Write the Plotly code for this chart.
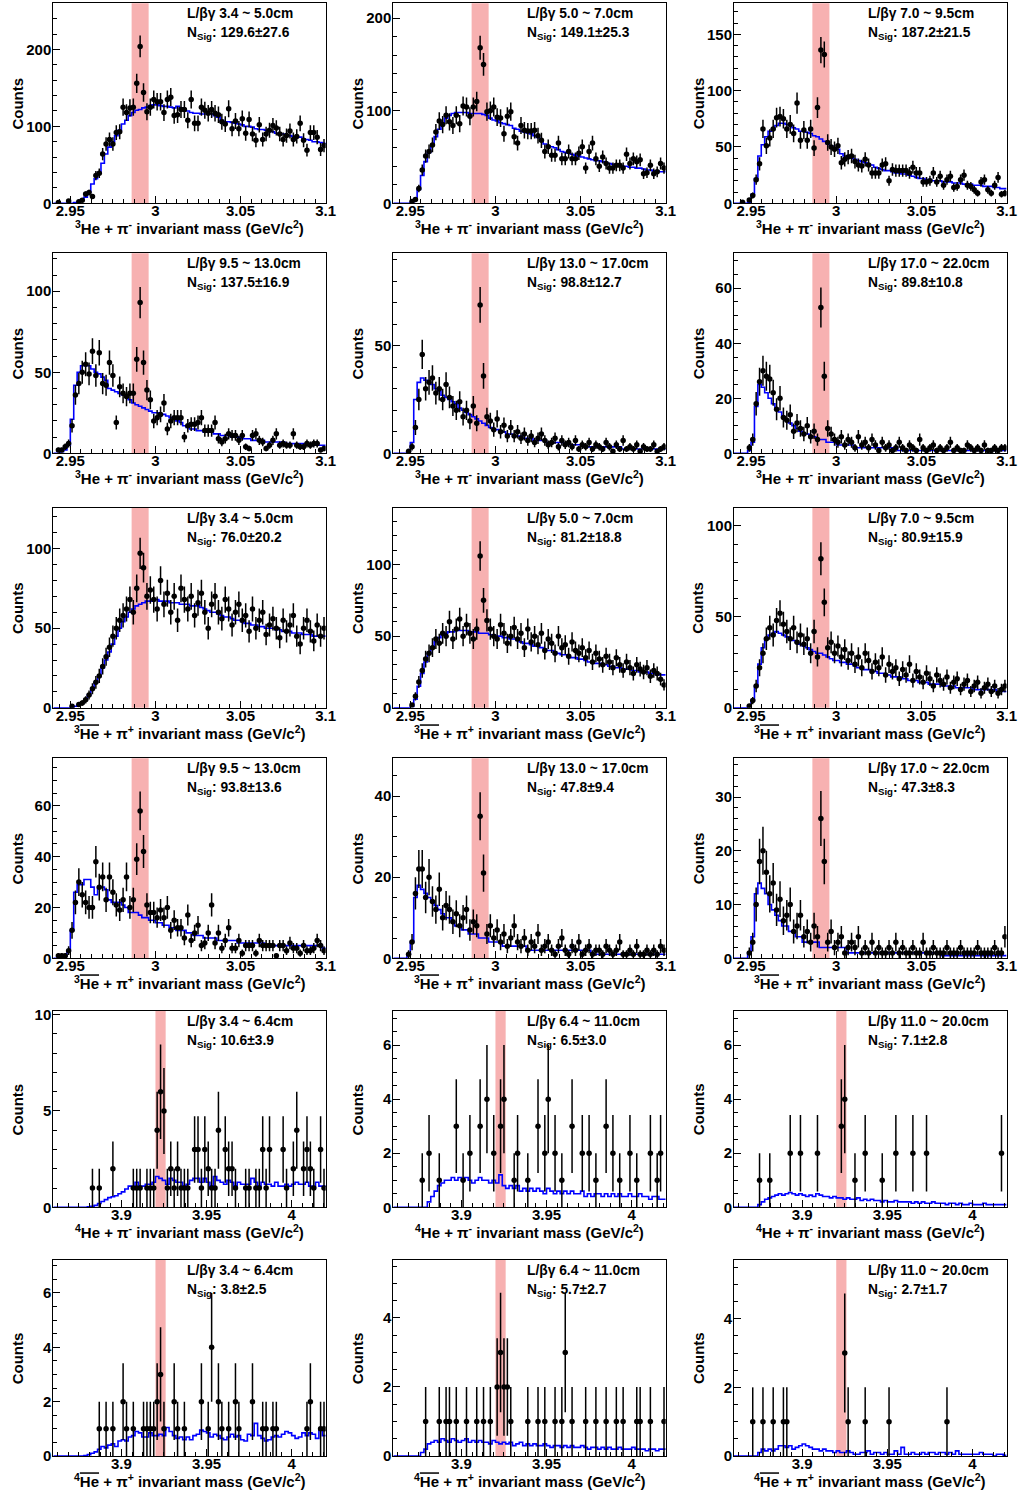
import math
import plotly.graph_objects as go

# ---------------------------------------------------------------- binning
N_BINS = 80
BIN_W = 0.002
HE3_RANGE = (2.94, 3.10)
HE4_RANGE = (3.86, 4.02)
HE3_BAND = (2.986, 2.996)
HE4_BAND = (3.920, 3.926)

HE3_XTICKS = [2.95, 3.0, 3.05, 3.1]
HE3_XLABELS = ["2.95", "3", "3.05", "3.1"]
HE4_XTICKS = [3.9, 3.95, 4.0]
HE4_XLABELS = ["3.9", "3.95", "4"]

# ---------------------------------------------------------------- panel texts
decay_len = [
    "3.4 ~ 5.0cm", "5.0 ~ 7.0cm", "7.0 ~ 9.5cm",
    "9.5 ~ 13.0cm", "13.0 ~ 17.0cm", "17.0 ~ 22.0cm",
    "3.4 ~ 5.0cm", "5.0 ~ 7.0cm", "7.0 ~ 9.5cm",
    "9.5 ~ 13.0cm", "13.0 ~ 17.0cm", "17.0 ~ 22.0cm",
    "3.4 ~ 6.4cm", "6.4 ~ 11.0cm", "11.0 ~ 20.0cm",
    "3.4 ~ 6.4cm", "6.4 ~ 11.0cm", "11.0 ~ 20.0cm",
]
n_sig = [
    "129.6±27.6", "149.1±25.3", "187.2±21.5",
    "137.5±16.9", "98.8±12.7", "89.8±10.8",
    "76.0±20.2", "81.2±18.8", "80.9±15.9",
    "93.8±13.6", "47.8±9.4", "47.3±8.3",
    "10.6±3.9", "6.5±3.0", "7.1±2.8",
    "3.8±2.5", "5.7±2.7", "2.7±1.7",
]
y_max = [260, 216, 177.5, 123.4, 93, 72.7, 125.6, 139.6, 110,
         78.7, 49.3, 37.2, 10.19, 7.26, 7.26, 7.21, 5.68, 5.71]
y_step = [100, 100, 50, 50, 50, 20, 50, 50, 50, 20, 20, 10, 5, 2, 2, 2, 2, 2]
y_minor = [20, 20, 10, 10, 10, 5, 10, 10, 10, 5, 5, 2, 1, 0.5, 0.5, 0.5, 0.5, 0.5]

# ---------------------------------------------------------------- 3He + pi-
he3_m_1 = [0, 1, 0, 0, 3, 0, 0, 2, 4, 12,
           14, 9, 36, 39, 64, 77, 83, 77, 92, 93,
           125, 118, 124, 125, 156, 204, 144, 119, 125, 135,
           132, 132, 118, 135, 138, 114, 115, 122, 122, 108,
           135, 104, 104, 125, 121, 117, 122, 117, 115, 106,
           103, 123, 97, 107, 97, 110, 91, 109, 90, 82,
           102, 83, 90, 95, 101, 98, 90, 83, 88, 94,
           83, 87, 104, 82, 69, 92, 92, 86, 70, 75]
bg_he3_m_1 = [0, 0, 0, 0, 0, 0, 1, 2, 5, 8,
              15, 25, 32, 40, 52, 64, 73, 80, 88, 95,
              103, 108, 114, 118, 121, 122, 124, 125, 127, 128,
              128, 127, 126, 126, 125, 124, 126, 124, 123, 120,
              118, 117, 117, 116, 116, 116, 116, 114, 112, 108,
              106, 106, 105, 104, 103, 102, 100, 100, 99, 97,
              96, 96, 95, 94, 93, 91, 90, 90, 89, 88,
              87, 86, 86, 84, 83, 82, 80, 80, 79, 78]

he3_m_2 = [0, 0, 0, 0, 0, 2, 4, 16, 36, 51,
           56, 63, 77, 89, 85, 95, 88, 84, 95, 86,
           105, 104, 94, 104, 110, 168, 150, 99, 100, 104,
           93, 92, 75, 94, 99, 72, 65, 84, 79, 78,
           78, 79, 73, 68, 56, 61, 52, 52, 65, 48,
           48, 56, 48, 48, 54, 61, 38, 56, 65, 48,
           40, 50, 43, 38, 38, 41, 41, 38, 53, 43,
           48, 45, 47, 32, 33, 41, 32, 34, 43, 38]
bg_he3_m_2 = [0, 0, 0, 0, 0, 1, 5, 15, 30, 45,
              55, 63, 72, 80, 87, 92, 95, 97, 98, 98,
              98, 98, 97, 97, 97, 97, 96, 95, 92, 90,
              89, 87, 86, 85, 84, 81, 80, 78, 77, 76,
              75, 73, 71, 68, 64, 62, 61, 60, 58, 56,
              55, 54, 53, 52, 51, 50, 49, 48, 47, 46,
              46, 45, 44, 43, 42, 41, 41, 40, 40, 39,
              39, 38, 38, 37, 36, 36, 35, 35, 34, 34]

he3_m_3 = [0, 0, 1, 0, 3, 7, 21, 35, 66, 51,
           58, 66, 76, 77, 75, 66, 70, 62, 89, 56,
           65, 56, 66, 49, 85, 136, 132, 54, 50, 48,
           51, 36, 39, 41, 42, 37, 34, 33, 39, 34,
           27, 27, 27, 34, 35, 20, 30, 29, 29, 29,
           29, 27, 32, 27, 27, 19, 19, 20, 27, 19,
           24, 16, 21, 24, 14, 15, 21, 25, 16, 15,
           12, 9, 19, 21, 12, 9, 16, 23, 8, 9]
bg_he3_m_3 = [0, 0, 0, 0, 1, 8, 22, 42, 52, 59,
              64, 66, 69, 71, 71, 70, 69, 67, 66, 64,
              64, 63, 62, 60, 59, 57, 55, 53, 51, 49,
              48, 44, 42, 41, 40, 39, 38, 37, 36, 35,
              34, 32, 31, 30, 29, 29, 28, 27, 27, 26,
              26, 25, 24, 23, 22, 22, 21, 21, 20, 20,
              20, 19, 19, 19, 18, 18, 18, 17, 17, 17,
              16, 16, 16, 15, 15, 15, 14, 14, 13, 13]

he3_m_4 = [0, 2, 2, 4, 6, 17, 36, 43, 50, 55,
           49, 63, 48, 62, 43, 42, 56, 48, 19, 41,
           37, 35, 37, 37, 58, 93, 56, 39, 33, 20,
           22, 24, 31, 15, 20, 22, 22, 22, 10, 17,
           18, 18, 19, 22, 14, 14, 14, 19, 9, 7,
           9, 12, 11, 11, 8, 11, 4, 3, 11, 12,
           8, 7, 3, 5, 8, 12, 5, 6, 5, 5,
           12, 5, 4, 4, 6, 5, 6, 6, 2, 3]
bg_he3_m_4 = [0, 0, 1, 2, 5, 21, 42, 50, 54, 55,
              54, 52, 50, 49, 47, 45, 40, 39, 38, 37,
              36, 35, 33, 31, 30, 29, 28, 27, 26, 25,
              25, 24, 24, 23, 22, 21, 20, 19, 17, 16,
              15, 15, 14, 14, 13, 13, 13, 12, 12, 11,
              11, 11, 10, 10, 10, 9, 9, 9, 8, 8,
              8, 8, 7, 7, 7, 7, 7, 7, 6, 6,
              6, 6, 6, 6, 6, 6, 5, 5, 5, 5]

he3_m_5 = [0, 0, 0, 0, 1, 3, 12, 25, 46, 30,
           33, 35, 28, 30, 25, 32, 26, 22, 20, 24,
           17, 20, 15, 22, 14, 69, 36, 17, 15, 11,
           16, 10, 13, 8, 12, 8, 10, 7, 9, 6,
           8, 5, 7, 9, 6, 4, 5, 7, 3, 6,
           4, 5, 3, 6, 2, 4, 3, 5, 2, 4,
           3, 2, 5, 3, 1, 4, 2, 6, 2, 3,
           2, 4, 1, 3, 2, 2, 4, 1, 2, 3]
bg_he3_m_5 = [0, 0, 0, 0, 1, 5, 25, 33, 35, 34,
              33, 32, 30, 29, 27, 26, 25, 24, 23, 21,
              20, 19, 18, 17, 16, 15, 14, 13, 12, 11,
              11, 10, 10, 9, 9, 8, 8, 8, 7, 7,
              7, 6, 6, 6, 6, 5, 5, 5, 5, 5,
              4, 4, 4, 4, 4, 4, 3, 3, 3, 3,
              3, 3, 3, 3, 3, 3, 3, 2, 2, 2,
              2, 2, 2, 2, 2, 2, 2, 2, 2, 2]

he3_m_6 = [0, 0, 0, 0, 2, 5, 18, 26, 30, 28,
           27, 22, 16, 20, 13, 12, 14, 8, 11, 9,
           7, 10, 6, 8, 5, 53, 28, 9, 7, 5,
           4, 6, 3, 5, 4, 2, 6, 3, 4, 2,
           5, 3, 1, 4, 2, 3, 1, 2, 4, 2,
           1, 3, 2, 1, 5, 2, 1, 2, 3, 1,
           2, 1, 2, 4, 1, 2, 1, 1, 3, 2,
           1, 2, 1, 3, 1, 1, 2, 1, 2, 2]
bg_he3_m_6 = [0, 0, 0, 0, 1, 4, 17, 25, 24, 22,
              20, 18, 16, 15, 13, 12, 11, 10, 9, 8,
              7, 7, 6, 6, 5, 5, 5, 4, 4, 4,
              3, 3, 3, 3, 3, 2, 2, 2, 2, 2,
              2, 2, 2, 2, 2, 2, 2, 2, 1, 1,
              1, 1, 1, 1, 1, 1, 1, 1, 1, 1,
              1, 1, 1, 1, 1, 1, 1, 1, 1, 1,
              1, 1, 1, 1, 1, 1, 1, 1, 1, 1]

# ---------------------------------------------------------------- anti-3He + pi+
he3_p_1 = [0, 0, 0, 0, 0, 1, 0, 2, 3, 5,
           8, 12, 16, 20, 26, 32, 38, 45, 50, 55,
           58, 62, 68, 60, 75, 97, 88, 70, 74, 68,
           62, 80, 65, 72, 60, 70, 55, 75, 68, 62,
           70, 58, 66, 72, 60, 50, 65, 70, 60, 56,
           68, 62, 52, 60, 65, 55, 58, 48, 62, 50,
           55, 60, 46, 52, 56, 50, 44, 55, 48, 52,
           58, 45, 40, 50, 55, 48, 42, 52, 45, 50]
bg_he3_p_1 = [0, 0, 0, 0, 0, 0, 1, 2, 3, 5,
              8, 12, 16, 20, 25, 30, 35, 40, 45, 50,
              54, 57, 60, 62, 64, 65, 66, 67, 67, 68,
              68, 67, 67, 67, 66, 66, 66, 65, 65, 65,
              64, 64, 64, 63, 62, 61, 60, 60, 59, 58,
              57, 57, 56, 55, 55, 54, 53, 53, 52, 52,
              51, 51, 50, 50, 50, 49, 49, 48, 48, 48,
              47, 47, 47, 46, 46, 46, 45, 45, 45, 45]

he3_p_2 = [0, 0, 0, 0, 0, 2, 8, 18, 26, 34,
           38, 42, 48, 45, 52, 50, 60, 48, 55, 62,
           50, 58, 52, 48, 55, 106, 75, 61, 55, 50,
           48, 58, 52, 45, 50, 56, 48, 52, 42, 55,
           46, 50, 44, 52, 40, 48, 45, 38, 50, 42,
           44, 36, 46, 40, 38, 42, 35, 40, 32, 38,
           34, 30, 36, 32, 28, 35, 30, 26, 32, 28,
           24, 30, 27, 25, 28, 22, 26, 24, 20, 16]
bg_he3_p_2 = [0, 0, 0, 0, 0, 1, 6, 15, 24, 32,
              38, 42, 46, 49, 51, 52, 53, 53, 54, 54,
              54, 54, 53, 53, 53, 52, 52, 52, 51, 51,
              50, 50, 49, 49, 48, 48, 47, 46, 45, 45,
              44, 43, 43, 42, 41, 40, 40, 39, 38, 37,
              37, 36, 35, 35, 34, 34, 33, 32, 32, 31,
              31, 30, 30, 29, 29, 28, 28, 27, 27, 27,
              26, 26, 25, 25, 25, 24, 24, 23, 23, 23]

he3_p_3 = [0, 0, 0, 0, 1, 4, 12, 22, 30, 38,
           44, 40, 48, 52, 46, 42, 38, 44, 36, 40,
           35, 38, 30, 42, 28, 82, 58, 33, 36, 30,
           34, 28, 32, 26, 30, 24, 28, 22, 30, 26,
           20, 25, 22, 28, 18, 24, 20, 22, 16, 21,
           18, 24, 15, 20, 17, 14, 19, 16, 12, 18,
           15, 13, 17, 11, 14, 16, 10, 13, 15, 9,
           12, 14, 8, 11, 13, 9, 12, 8, 10, 12]
bg_he3_p_3 = [0, 0, 0, 0, 1, 4, 12, 24, 33, 38,
              40, 41, 42, 41, 40, 39, 38, 37, 36, 35,
              34, 33, 32, 31, 30, 30, 29, 28, 27, 26,
              26, 25, 25, 24, 24, 23, 22, 22, 21, 21,
              20, 20, 19, 19, 18, 18, 17, 17, 17, 16,
              16, 15, 15, 15, 14, 14, 14, 13, 13, 13,
              13, 12, 12, 12, 12, 11, 11, 11, 11, 11,
              10, 10, 10, 10, 10, 10, 10, 9, 9, 9]

he3_p_4 = [0, 1, 1, 1, 3, 11, 22, 30, 25, 22,
           20, 20, 38, 28, 32, 23, 32, 26, 21, 19,
           23, 32, 20, 23, 39, 58, 42, 21, 18, 18,
           16, 19, 16, 20, 11, 15, 12, 12, 8, 17,
           7, 10, 13, 5, 6, 10, 21, 6, 10, 4,
           7, 12, 4, 4, 7, 2, 5, 5, 5, 2,
           7, 5, 5, 5, 5, 1, 5, 5, 3, 6,
           4, 4, 2, 5, 3, 3, 4, 7, 5, 3]
bg_he3_p_4 = [0, 0, 0, 1, 3, 11, 26, 29, 29, 31,
              31, 28, 25, 28, 28, 27, 23, 22, 22, 22,
              21, 20, 18, 18, 18, 17, 16, 16, 15, 15,
              14, 14, 13, 13, 12, 12, 11, 11, 11, 10,
              10, 9, 9, 9, 8, 8, 8, 8, 7, 7,
              7, 7, 7, 7, 6, 6, 6, 6, 6, 6,
              6, 6, 5, 5, 5, 5, 5, 5, 5, 5,
              5, 5, 5, 5, 5, 5, 5, 5, 5, 4]

he3_p_5 = [0, 0, 0, 0, 1, 4, 16, 22, 22, 15,
           20, 14, 12, 17, 10, 13, 12, 9, 11, 8,
           10, 12, 7, 9, 8, 35, 21, 6, 8, 5,
           7, 4, 6, 3, 5, 8, 4, 3, 5, 2,
           4, 3, 6, 2, 3, 4, 2, 1, 3, 5,
           2, 1, 3, 2, 4, 1, 2, 3, 1, 2,
           2, 1, 3, 2, 1, 2, 4, 1, 1, 2,
           1, 3, 1, 1, 2, 1, 2, 1, 3, 2]
bg_he3_p_5 = [0, 0, 0, 0, 1, 4, 15, 18, 17, 16,
              15, 14, 13, 12, 11, 10, 10, 9, 8, 8,
              7, 7, 6, 6, 6, 5, 5, 5, 4, 4,
              4, 4, 3, 3, 3, 3, 3, 3, 3, 2,
              2, 2, 2, 2, 2, 2, 2, 2, 2, 2,
              2, 2, 2, 2, 2, 2, 2, 2, 1, 1,
              1, 1, 1, 1, 1, 1, 1, 1, 1, 1,
              1, 1, 1, 1, 1, 1, 1, 1, 1, 1]

he3_p_6 = [0, 0, 0, 0, 1, 3, 10, 18, 20, 16,
           12, 14, 9, 11, 7, 8, 10, 5, 6, 8,
           4, 5, 3, 6, 4, 26, 18, 3, 5, 2,
           3, 4, 1, 2, 3, 2, 4, 1, 2, 1,
           3, 1, 2, 1, 1, 2, 1, 3, 1, 2,
           1, 1, 2, 1, 1, 3, 1, 1, 2, 1,
           1, 1, 2, 1, 1, 1, 2, 1, 1, 1,
           1, 2, 1, 1, 1, 1, 2, 1, 1, 4]
bg_he3_p_6 = [0, 0, 0, 0, 1, 4, 12, 14, 13, 12,
              10, 9, 8, 7, 6, 6, 5, 5, 4, 4,
              3, 3, 3, 3, 3, 2, 2, 2, 2, 2,
              2, 2, 2, 1, 1, 1, 1, 1, 1, 1,
              1, 1, 1, 1, 1, 1, 1, 1, 1, 1,
              1, 1, 1, 1, 1, 1, 1, 1, 1, 1,
              1, 0.5, 0.5, 0.5, 0.5, 0.5, 0.5, 0.5, 0.5, 0.5,
              0.5, 0.5, 0.5, 0.5, 0.5, 0.5, 0.5, 0.5, 0.5, 0.5]

# ---------------------------------------------------------------- 4He + pi-
he4_m_1 = [0, 0, 0, 0, 0, 0, 0, 0, 0, 0,
           0, 1, 0, 1, 0, 0, 0, 2, 0, 0,
           0, 0, 0, 1, 1, 1, 0, 1, 1, 1,
           4, 6, 5, 1, 2, 1, 2, 1, 1, 1,
           0, 3, 3, 1, 3, 2, 1, 1, 4, 0,
           3, 2, 2, 1, 0, 0, 1, 1, 0, 1,
           1, 3, 1, 3, 0, 0, 0, 3, 1, 0,
           2, 4, 0, 2, 3, 2, 1, 0, 3, 1]
bg_he4_m_1 = [0, 0, 0, 0, 0, 0, 0, 0, 0, 0,
              0.02, 0.05, 0.1, 0.2, 0.3, 0.4, 0.5, 0.55, 0.6, 0.7,
              0.8, 0.95, 1.1, 1.0, 1.3, 1.1, 1.1, 1.2, 1.2, 1.3,
              1.6, 1.5, 1.4, 1.2, 1.5, 1.4, 1.3, 1.3, 1.1, 1.2,
              1.4, 1.5, 1.5, 1.3, 1.5, 1.3, 1.1, 1.6, 1.4, 1.3,
              1.2, 1.4, 1.3, 1.1, 1.3, 1.2, 1.2, 1.2, 1.5, 1.3,
              1.1, 1.3, 1.2, 1.2, 1.1, 1.3, 1.1, 1.1, 1.2, 1.1,
              1.2, 1.3, 1.2, 1.2, 1.3, 1.1, 1.0, 1.3, 1.1, 1.1]

he4_m_2 = [0, 0, 0, 0, 0, 0, 0, 0, 1, 0,
           2, 0, 0, 1, 0, 0, 0, 0, 3, 0,
           1, 0, 2, 0, 0, 3, 0, 4, 0, 2,
           0, 3, 4, 0, 0, 1, 2, 0, 0, 1,
           0, 0, 3, 0, 2, 4, 0, 2, 0, 1,
           0, 0, 3, 0, 0, 2, 0, 2, 0, 1,
           0, 0, 3, 0, 2, 0, 1, 0, 0, 2,
           0, 1, 0, 0, 0, 2, 0, 1, 2, 0]
bg_he4_m_2 = [0, 0, 0, 0, 0, 0, 0, 0, 0, 0,
              0.2, 0.4, 0.6, 0.8, 0.9, 1.0, 1.0, 1.1, 1.0, 1.1,
              1.0, 1.1, 1.0, 0.9, 1.0, 1.1, 1.0, 1.0, 0.9, 1.0,
              0.9, 1.2, 0.8, 0.7, 0.8, 0.7, 0.8, 0.6, 0.7, 0.6,
              0.7, 0.6, 0.7, 0.6, 0.5, 0.7, 0.6, 0.5, 0.6, 0.5,
              0.6, 0.5, 0.6, 0.5, 0.5, 0.6, 0.4, 0.5, 0.4, 0.5,
              0.5, 0.4, 0.5, 0.4, 0.5, 0.4, 0.5, 0.4, 0.4, 0.5,
              0.4, 0.4, 0.5, 0.4, 0.4, 0.3, 0.4, 0.4, 0.3, 0.3]

he4_m_3 = [0, 0, 0, 0, 0, 0, 0, 1, 0, 0,
           1, 0, 0, 0, 0, 0, 2, 0, 0, 2,
           0, 0, 0, 0, 2, 0, 0, 0, 0, 0,
           0, 3, 4, 0, 0, 1, 0, 0, 2, 0,
           0, 0, 0, 1, 0, 0, 0, 2, 0, 0,
           0, 0, 2, 0, 0, 0, 2, 0, 0, 0,
           0, 0, 0, 0, 0, 0, 0, 0, 0, 0,
           0, 0, 0, 0, 0, 0, 0, 0, 2, 0]
bg_he4_m_3 = [0, 0, 0, 0, 0, 0, 0, 0.1, 0.2, 0.3,
              0.35, 0.4, 0.45, 0.5, 0.45, 0.5, 0.55, 0.5, 0.45, 0.5,
              0.45, 0.4, 0.45, 0.4, 0.5, 0.45, 0.4, 0.4, 0.35, 0.4,
              0.35, 0.35, 0.3, 0.35, 0.3, 0.3, 0.35, 0.25, 0.3, 0.25,
              0.3, 0.25, 0.25, 0.2, 0.25, 0.2, 0.2, 0.25, 0.2, 0.2,
              0.2, 0.2, 0.15, 0.2, 0.15, 0.2, 0.15, 0.15, 0.2, 0.15,
              0.15, 0.15, 0.1, 0.15, 0.15, 0.1, 0.15, 0.1, 0.1, 0.15,
              0.1, 0.1, 0.1, 0.15, 0.1, 0.1, 0.1, 0.1, 0.1, 0.1]

# ---------------------------------------------------------------- anti-4He + pi+
he4_p_1 = [0, 0, 0, 0, 0, 0, 0, 0, 0, 0,
           0, 0, 0, 1, 0, 1, 0, 1, 0, 0,
           2, 1, 0, 1, 0, 0, 1, 1, 1, 1,
           2, 3, 1, 0, 0, 2, 1, 0, 1, 0,
           0, 0, 0, 2, 0, 1, 4, 0, 2, 1,
           0, 1, 0, 2, 1, 0, 0, 0, 2, 0,
           0, 1, 1, 0, 1, 1, 0, 0, 0, 0,
           0, 0, 0, 0, 1, 2, 0, 0, 1, 1]
bg_he4_p_1 = [0, 0, 0, 0, 0, 0, 0, 0, 0, 0.02,
              0.05, 0.1, 0.15, 0.25, 0.35, 0.3, 0.4, 0.45, 0.35, 0.55,
              0.6, 0.55, 0.7, 0.75, 0.9, 0.85, 0.7, 0.7, 0.85, 0.75,
              0.75, 0.8, 0.75, 1.05, 0.9, 0.75, 0.65, 0.7, 0.6, 0.7,
              0.6, 0.75, 0.8, 0.95, 0.9, 0.85, 0.7, 0.8, 0.75, 0.65,
              0.6, 0.7, 0.8, 0.7, 0.75, 0.6, 0.55, 0.8, 0.75, 1.2,
              0.75, 0.65, 0.55, 0.6, 0.7, 0.75, 0.7, 0.8, 0.9, 0.85,
              0.75, 0.65, 0.7, 0.85, 0.75, 0.85, 0.8, 0.65, 0.95, 0.75]

he4_p_2 = [0, 0, 0, 0, 0, 0, 0, 0, 0, 1,
           0, 0, 0, 1, 0, 1, 1, 0, 1, 0,
           0, 1, 0, 0, 1, 0, 1, 0, 1, 0,
           2, 3, 2, 2, 1, 0, 0, 0, 0, 1,
           0, 0, 1, 0, 1, 0, 0, 1, 0, 1,
           3, 0, 1, 0, 0, 0, 1, 0, 0, 1,
           0, 0, 1, 0, 0, 1, 0, 1, 0, 0,
           0, 1, 1, 0, 0, 1, 0, 0, 0, 1]
bg_he4_p_2 = [0, 0, 0, 0, 0, 0, 0, 0, 0.1, 0.2,
              0.35, 0.4, 0.45, 0.4, 0.5, 0.45, 0.4, 0.5, 0.45, 0.4,
              0.45, 0.5, 0.4, 0.45, 0.4, 0.45, 0.4, 0.4, 0.35, 0.45,
              0.4, 0.35, 0.4, 0.35, 0.4, 0.3, 0.35, 0.4, 0.3, 0.35,
              0.3, 0.35, 0.3, 0.3, 0.35, 0.3, 0.25, 0.3, 0.3, 0.25,
              0.3, 0.25, 0.3, 0.25, 0.25, 0.3, 0.25, 0.2, 0.25, 0.25,
              0.2, 0.25, 0.2, 0.25, 0.2, 0.2, 0.25, 0.2, 0.2, 0.2,
              0.25, 0.2, 0.2, 0.2, 0.15, 0.2, 0.2, 0.15, 0.2, 0.2]

he4_p_3 = [0, 0, 0, 0, 0, 1, 0, 0, 1, 0,
           0, 1, 0, 0, 1, 1, 0, 0, 0, 0,
           0, 0, 0, 0, 0, 0, 0, 0, 0, 0,
           0, 0, 3, 1, 0, 0, 0, 0, 1, 0,
           0, 0, 0, 0, 0, 1, 0, 0, 0, 0,
           0, 0, 0, 0, 0, 0, 0, 0, 0, 0,
           0, 0, 1, 0, 0, 0, 0, 0, 0, 0,
           0, 0, 0, 0, 0, 0, 0, 0, 0, 0]
bg_he4_p_3 = [0, 0, 0, 0, 0, 0, 0, 0.1, 0.2, 0.15,
              0.2, 0.15, 0.2, 0.3, 0.3, 0.25, 0.3, 0.2, 0.25, 0.3,
              0.35, 0.3, 0.25, 0.2, 0.2, 0.15, 0.2, 0.15, 0.15, 0.1,
              0.15, 0.1, 0.1, 0.15, 0.1, 0.05, 0.05, 0.1, 0.1, 0.15,
              0.05, 0.1, 0.1, 0.05, 0.1, 0.05, 0.05, 0.15, 0.05, 0.25,
              0.05, 0.05, 0.1, 0.05, 0.05, 0.1, 0.05, 0.1, 0.1, 0.05,
              0.1, 0.1, 0.05, 0.1, 0.05, 0.15, 0.05, 0.05, 0.05, 0.05,
              0.05, 0.05, 0.1, 0.05, 0.05, 0.05, 0.0, 0.05, 0.05, 0.02]

counts = [he3_m_1, he3_m_2, he3_m_3, he3_m_4, he3_m_5, he3_m_6,
          he3_p_1, he3_p_2, he3_p_3, he3_p_4, he3_p_5, he3_p_6,
          he4_m_1, he4_m_2, he4_m_3, he4_p_1, he4_p_2, he4_p_3]
backgrounds = [bg_he3_m_1, bg_he3_m_2, bg_he3_m_3, bg_he3_m_4, bg_he3_m_5, bg_he3_m_6,
               bg_he3_p_1, bg_he3_p_2, bg_he3_p_3, bg_he3_p_4, bg_he3_p_5, bg_he3_p_6,
               bg_he4_m_1, bg_he4_m_2, bg_he4_m_3, bg_he4_p_1, bg_he4_p_2, bg_he4_p_3]

OVER = "<span style='text-decoration:overline'>He</span>"
x_titles = [
    "<sup>3</sup>He + π<sup>-</sup> invariant mass (GeV/c<sup>2</sup>)",
    "<sup>3</sup>" + OVER + " + π<sup>+</sup> invariant mass (GeV/c<sup>2</sup>)",
    "<sup>4</sup>He + π<sup>-</sup> invariant mass (GeV/c<sup>2</sup>)",
    "<sup>4</sup>" + OVER + " + π<sup>+</sup> invariant mass (GeV/c<sup>2</sup>)",
]

# ---------------------------------------------------------------- page geometry (px)
W, H = 1019, 1496
COL_X = [(53.3, 325.7), (393.3, 665.7), (734.0, 1006.6)]
ROW_Y = [(3.3, 203.3), (253.3, 453.3), (507.8, 707.8),
         (758.3, 958.3), (1011.0, 1207.3), (1260.0, 1456.0)]

FONT = "Liberation Sans"
BLACK = "black"
BAND_COLOR = "#F7B1B1"


def fx(p):
    return p / W


def fy(p):
    return 1 - p / H


fig = go.Figure()
layout = {}
annotations = []
shapes = []

for k in range(18):
    r, c = divmod(k, 3)
    is_he4 = r >= 4
    lo, hi = HE4_RANGE if is_he4 else HE3_RANGE
    band = HE4_BAND if is_he4 else HE3_BAND
    n = "" if k == 0 else str(k + 1)
    xl, xr = COL_X[c]
    yt, yb = ROW_Y[r]

    data = counts[k]
    bg = backgrounds[k]
    assert len(data) == N_BINS and len(bg) == N_BINS
    centers = [lo + BIN_W * (i + 0.5) for i in range(N_BINS)]

    # background estimate as a step histogram
    fig.add_trace(go.Scatter(
        x=[lo] + centers + [hi], y=[bg[0]] + bg + [bg[-1]],
        mode="lines", line=dict(color="#0000FF", width=1.6, shape="hvh"),
        xaxis="x" + n, yaxis="y" + n, showlegend=False, hoverinfo="skip"))

    # measured counts with Poisson errors
    px = [x for x, v in zip(centers, data) if v > 0]
    py = [v for v in data if v > 0]
    fig.add_trace(go.Scatter(
        x=px, y=py, mode="markers",
        marker=dict(color=BLACK, size=5.5, symbol="circle"),
        error_y=dict(type="data", array=[math.sqrt(v) for v in py],
                     color=BLACK, thickness=1.5, width=0),
        xaxis="x" + n, yaxis="y" + n, showlegend=False, cliponaxis=True))

    shapes.append(dict(type="rect", xref="x" + n, yref="y" + n + " domain",
                       x0=band[0], x1=band[1], y0=0, y1=1,
                       fillcolor=BAND_COLOR, line=dict(width=0), layer="below"))

    tickfont = dict(family=FONT, size=15, color=BLACK, weight="bold")
    xt = HE4_XTICKS if is_he4 else HE3_XTICKS
    xtl = HE4_XLABELS if is_he4 else HE3_XLABELS
    layout["xaxis" + n] = dict(
        domain=[fx(xl), fx(xr)], range=[lo, hi], anchor="y" + n,
        tickmode="array", tickvals=xt, ticktext=xtl,
        ticks="inside", ticklen=7, tickwidth=1, tickcolor=BLACK,
        minor=dict(tickmode="linear", tick0=xt[0], dtick=0.00625,
                   ticks="inside", ticklen=4, tickwidth=1, tickcolor=BLACK),
        showline=True, linecolor=BLACK, linewidth=1, mirror=True,
        showgrid=False, zeroline=False, tickfont=tickfont, fixedrange=True,
        ticklabelstandoff=-6)
    layout["yaxis" + n] = dict(
        domain=[fy(yb), fy(yt)], range=[0, y_max[k]], anchor="x" + n,
        tickmode="linear", tick0=0, dtick=y_step[k],
        ticks="inside", ticklen=7, tickwidth=1, tickcolor=BLACK,
        minor=dict(tickmode="linear", tick0=0, dtick=y_minor[k],
                   ticks="inside", ticklen=4, tickwidth=1, tickcolor=BLACK),
        showline=True, linecolor=BLACK, linewidth=1, mirror=True,
        showgrid=False, zeroline=False, tickfont=tickfont, fixedrange=True,
        ticklabelstandoff=-2)

    txt_font = dict(family=FONT, size=13.8, color=BLACK, weight="bold")
    annotations.append(dict(
        text="L/βγ " + decay_len[k], x=fx(xl + 132), y=fy(yt + 10.5),
        xref="paper", yref="paper", xanchor="left", yanchor="middle",
        showarrow=False, font=txt_font))
    annotations.append(dict(
        text="N<sub>Sig</sub>: " + n_sig[k], x=fx(xl + 132), y=fy(yt + 30.5),
        xref="paper", yref="paper", xanchor="left", yanchor="middle",
        showarrow=False, font=txt_font))

    title_font = dict(family=FONT, size=15, color=BLACK, weight="bold")
    annotations.append(dict(
        text="Counts", textangle=-90, x=fx(xl - 36), y=fy((yt + yb) / 2),
        xref="paper", yref="paper", xanchor="center", yanchor="middle",
        showarrow=False, font=title_font))
    annotations.append(dict(
        text=x_titles[r // 2 if r < 4 else r - 2], x=fx((xl + xr) / 2),
        y=fy(yb + 24.5), xref="paper", yref="paper",
        xanchor="center", yanchor="middle", showarrow=False, font=title_font))

fig.update_layout(
    width=W, height=H,
    margin=dict(l=0, r=0, t=0, b=0, autoexpand=False),
    paper_bgcolor="white", plot_bgcolor="white",
    annotations=annotations, shapes=shapes, **layout)

fig.write_html("out.html")
